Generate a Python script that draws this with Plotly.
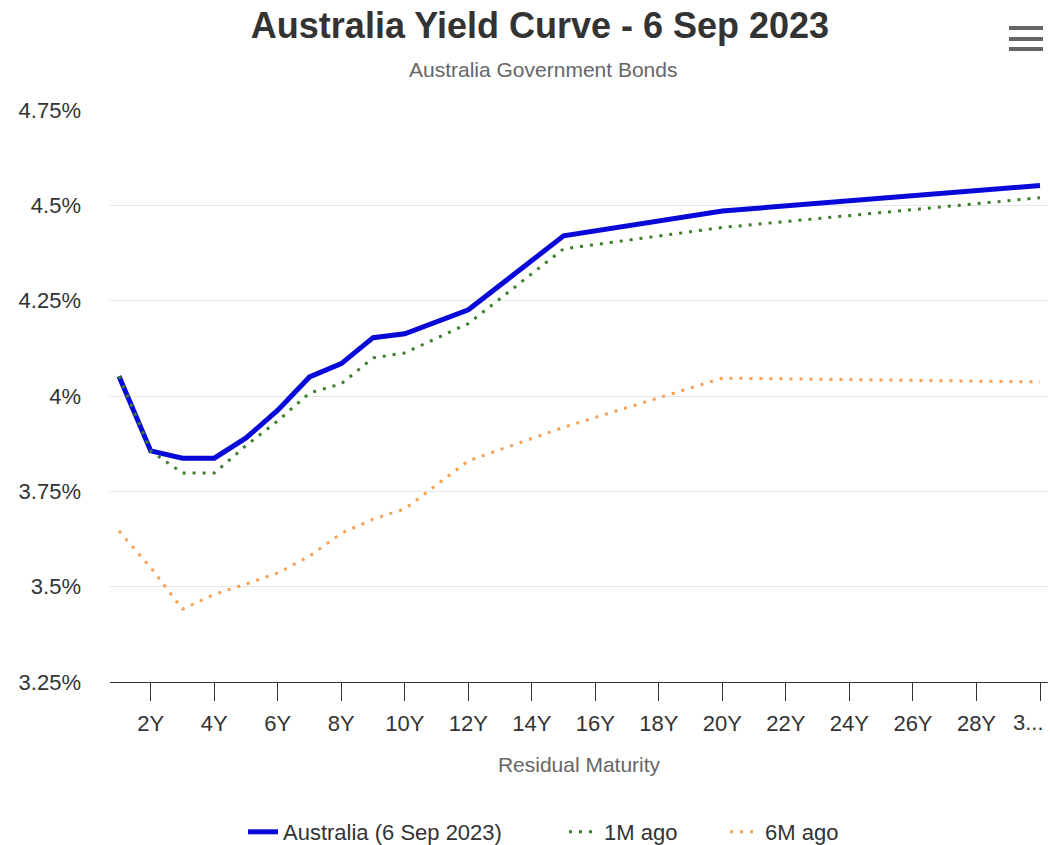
import plotly.graph_objects as go

# ---- data ----
maturity = [1, 2, 3, 4, 5, 6, 7, 8, 9, 10, 12, 15, 20, 30]
australia = [4.052, 3.856, 3.837, 3.837, 3.89, 3.963, 4.05, 4.085, 4.153, 4.163, 4.226, 4.42, 4.485, 4.552]
one_m_ago = [4.052, 3.856, 3.798, 3.798, 3.87, 3.935, 4.008, 4.032, 4.1, 4.113, 4.19, 4.386, 4.442, 4.52]
six_m_ago = [3.646, 3.55, 3.441, 3.48, 3.507, 3.536, 3.58, 3.64, 3.677, 3.704, 3.83, 3.918, 4.047, 4.037]

tick_vals = [2, 4, 6, 8, 10, 12, 14, 16, 18, 20, 22, 24, 26, 28, 30]
tick_text = ["2Y", "4Y", "6Y", "8Y", "10Y", "12Y", "14Y", "16Y", "18Y", "20Y",
             "22Y", "24Y", "26Y", "28Y", ""]
last_tick_text = "3..."
y_vals = [3.25, 3.5, 3.75, 4.0, 4.25, 4.5, 4.75]
y_text = ["3.25%", "3.5%", "3.75%", "4%", "4.25%", "4.5%", "4.75%"]

FONT = "Liberation Sans, Arial, sans-serif"

fig = go.Figure()
fig.add_trace(go.Scatter(x=maturity, y=australia, mode="lines", name="Australia (6 Sep 2023)",
                         line=dict(color="#0808d8", width=5), legend="legend"))
fig.add_trace(go.Scatter(x=maturity, y=one_m_ago, mode="lines", name="1M ago",
                         line=dict(color="#3b7f2c", width=3, dash="3px,7px"), legend="legend2"))
fig.add_trace(go.Scatter(x=maturity, y=six_m_ago, mode="lines", name="6M ago",
                         line=dict(color="#f5a054", width=3, dash="3px,7px"), legend="legend3"))

L, R, T, B = 110, 1048, 110, 682
W, H = 1050, 845


def px_x(p):
    return (p - L) / (R - L)


def px_y(p):
    return (B - p) / (B - T)


shapes = []
for yy in (28, 39, 49):
    shapes.append(dict(type="rect", xref="paper", yref="paper",
                       x0=px_x(1009), x1=px_x(1043), y0=px_y(yy + 2), y1=px_y(yy - 2),
                       fillcolor="#666666", line=dict(width=0), layer="above"))


def leg(text_start):
    return dict(orientation="h", x=(text_start - 40) / W, xref="container", xanchor="left",
                y=1 - 832 / H, yref="container", yanchor="middle",
                font=dict(size=22, color="#333333", family=FONT), bgcolor="rgba(0,0,0,0)")


fig.update_layout(
    width=W, height=H,
    margin=dict(l=L, r=W - R, t=T, b=H - B, pad=0),
    paper_bgcolor="white", plot_bgcolor="white",
    font=dict(family=FONT, color="#333333"),
    title=dict(text="<b>Australia Yield Curve - 6 Sep 2023</b>", xref="container", yref="container",
               x=540 / W, y=1 - 25 / H, xanchor="center", yanchor="middle",
               font=dict(size=36, color="#333333", family=FONT)),
    annotations=[
        dict(text="Australia Government Bonds", xref="paper", yref="paper",
             x=px_x(543), y=px_y(70), xanchor="center", yanchor="middle", showarrow=False,
             font=dict(size=21, color="#666666", family=FONT)),
        dict(text=last_tick_text, xref="x", yref="paper", x=tick_vals[-1], y=px_y(722),
             xanchor="right", yanchor="middle", xshift=6, showarrow=False,
             font=dict(size=22, color="#333333", family=FONT)),
    ],
    shapes=shapes,
    xaxis=dict(range=[1 - 9 / 31.76, 30 + 8 / 31.76], tickmode="array", tickvals=tick_vals, ticktext=tick_text,
               showgrid=False, zeroline=False, showline=True, linecolor="#333333", linewidth=1,
               ticks="outside", ticklen=18, tickcolor="#333333", tickwidth=1,
               ticklabelstandoff=4,
               tickfont=dict(size=22, color="#333333"),
               title=dict(text="Residual Maturity", font=dict(size=21, color="#666666"), standoff=21)),
    yaxis=dict(range=[3.25, 4.75], tickmode="array", tickvals=y_vals, ticktext=y_text,
               showgrid=True, gridcolor="#e6e6e6", gridwidth=1, zeroline=False, showline=False,
               ticks="", ticklabelstandoff=28, tickfont=dict(size=22, color="#333333")),
    legend=leg(283),
    legend2=leg(604),
    legend3=leg(765),
    showlegend=True,
)

fig.write_html("out.html")
